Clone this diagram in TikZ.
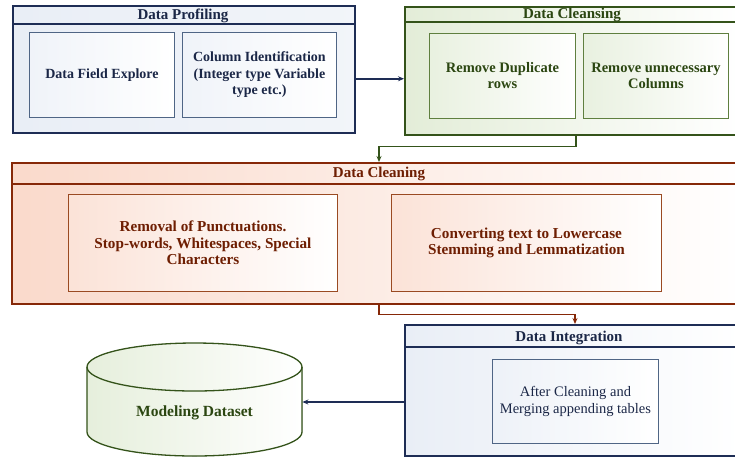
\documentclass[tikz,border=0pt]{standalone}
\usepackage{fontspec}
\setmainfont{Liberation Serif}
\usetikzlibrary{arrows.meta,calc}
\definecolor{pbord}{HTML}{1E2D55}
\definecolor{pinner}{HTML}{4F6585}
\definecolor{ptext}{HTML}{1B2747}
\definecolor{pfill}{HTML}{E9EEF6}
\definecolor{gbord}{HTML}{34531A}
\definecolor{ginner}{HTML}{5F7F3F}
\definecolor{gtext}{HTML}{2B4611}
\definecolor{gfill}{HTML}{E3EDD8}
\definecolor{rbord}{HTML}{862808}
\definecolor{rinner}{HTML}{9A4A22}
\definecolor{rtext}{HTML}{6E1E02}
\definecolor{rfill}{HTML}{F9D3C2}
\begin{document}
\begin{tikzpicture}[x=1pt,y=-1pt,
  outerbox/.style={draw=#1, line width=1.5pt, anchor=north west, inner sep=0pt},
  innerbox/.style={draw=#1, line width=0.9pt, anchor=north west, inner sep=2pt, align=center,
    font=\bfseries\fontsize{14}{16.5}\selectfont},
  title/.style={font=\bfseries\fontsize{15}{17}\selectfont, inner sep=0pt, anchor=base},
  conn/.style={line width=1.5pt, -{Stealth[length=6pt,width=5pt]}},
]
\useasboundingbox (0,0) rectangle (735,459);
\clip (0,0) rectangle (735,459);

% ---- Data Profiling
\node[outerbox=pbord, left color=pfill, right color=pfill!60!white,
  minimum width=342pt, minimum height=127pt] (dp) at (12,5) {};
\draw[pbord, line width=1.3pt] ($(dp.north west)+(0,19)$) -- ($(dp.north east)+(0,19)$);
\node[title, text=ptext] (dpt) at (183,19.5) {Data Profiling};
\node[innerbox=pinner, text=ptext, left color=pfill!70!white, right color=white,
  minimum width=145pt, minimum height=85pt] (dfe) at (29,32) {Data Field Explore};
\node[innerbox=pinner, text=ptext, left color=pfill!70!white, right color=white,
  minimum width=154pt, minimum height=85pt] (cid) at (182,32)
  {Column Identification\\(Integer type Variable\\type etc.)};

% ---- Data Cleansing
\node[outerbox=gbord, left color=gfill, right color=white,
  minimum width=336pt, minimum height=128pt] (dc) at (404,6) {};
\draw[gbord, line width=1.3pt] ($(dc.north west)+(0,16)$) -- ($(dc.north east)+(0,16)$);
\node[title, text=gtext] (dct) at (572,18.5) {Data Cleansing};
\node[innerbox=ginner, text=gtext, left color=gfill!80!white, right color=white,
  font=\bfseries\fontsize{14.5}{16}\selectfont,
  minimum width=146pt, minimum height=85pt] (rdr) at (429,33) {Remove Duplicate\\rows};
\node[innerbox=ginner, text=gtext, left color=gfill!80!white, right color=white,
  font=\bfseries\fontsize{14.5}{16}\selectfont,
  minimum width=145pt, minimum height=85pt] (ruc) at (583,33) {Remove unnecessary\\Columns};

% ---- Data Cleaning
\node[outerbox=rbord, left color=rfill!85!white, right color=white,
  minimum width=737pt, minimum height=141pt] (dcl) at (11,162) {};
\draw[rbord, line width=1.3pt] ($(dcl.north west)+(0,22)$) -- ($(dcl.north east)+(0,22)$);
\node[title, text=rtext] (dclt) at (379,177) {Data Cleaning};
\node[innerbox=rinner, text=rtext, left color=rfill!65!white, right color=white,
  font=\bfseries\fontsize{15.2}{16.3}\selectfont,
  minimum width=269pt, minimum height=97pt] (rop) at (68,194)
  {Removal of Punctuations.\\Stop-words, Whitespaces, Special\\Characters};
\node[innerbox=rinner, text=rtext, left color=rfill!65!white, right color=white,
  font=\bfseries\fontsize{15.2}{16.3}\selectfont,
  minimum width=270pt, minimum height=97pt] (ctl) at (391,194)
  {Converting text to Lowercase\\Stemming and Lemmatization};

% ---- Data Integration
\node[outerbox=pbord, left color=pfill, right color=white,
  minimum width=336pt, minimum height=131pt] (di) at (404,324) {};
\draw[pbord, line width=1.3pt] ($(di.north west)+(0,23)$) -- ($(di.north east)+(0,23)$);
\node[title, text=ptext] (dit) at (569,341) {Data Integration};
\node[innerbox=pinner, text=ptext, left color=pfill!80!white, right color=white,
  font=\fontsize{14.5}{17}\selectfont,
  minimum width=166pt, minimum height=84pt] (acm) at (492,359)
  {After Cleaning and\\Merging appending tables};

% ---- Modeling Dataset cylinder
\node[inner sep=0pt, minimum width=215pt, minimum height=113pt, anchor=north west] (cyl) at (87,343) {};
\fill[left color=gfill!90!white, right color=white]
  (87,367) -- (87,432) arc[start angle=180, end angle=0, x radius=107.5, y radius=24]
  -- (302,367) arc[start angle=0, end angle=-180, x radius=107.5, y radius=24] -- cycle;
\draw[gbord, line width=1.3pt]
  (87,367) -- (87,432) arc[start angle=180, end angle=0, x radius=107.5, y radius=24]
  -- (302,367);
\draw[gbord, line width=1.3pt] (194.5,367) ellipse[x radius=107.5, y radius=24];
\node[text=gtext, font=\bfseries\fontsize{15.5}{18}\selectfont] (mdt) at (194.5,413) {Modeling Dataset};

% ---- connectors
\draw[conn, pbord] ([yshift=-9.5pt]dp.east) -- ([yshift=-9.5pt]dp.east -| dc.west);
\draw[conn, gbord] (dc.south -| rdr.east) -- ++(0,11) -| (dcl.north -| 379,0);
\draw[conn, rbord] (dcl.south -| 379,0) -- ++(0,10) -| (di.north -| 575,0);
\draw[conn, pbord] (di.west |- 0,402) -- (cyl.east |- 0,402);
\end{tikzpicture}
\end{document}
